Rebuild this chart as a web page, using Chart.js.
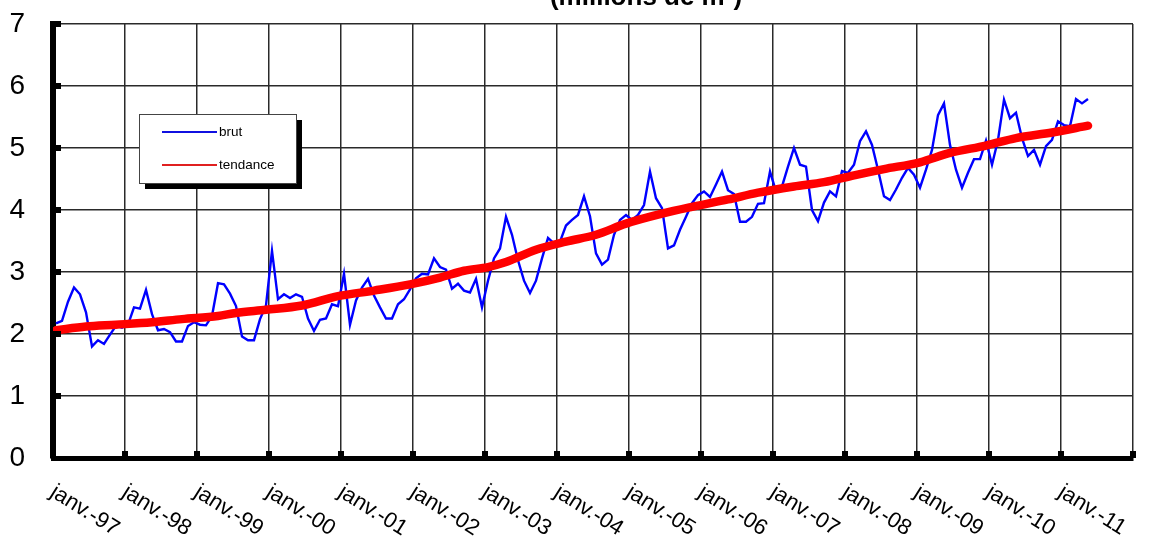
<!DOCTYPE html>
<html>
<head>
<meta charset="utf-8">
<script src="https://cdn.jsdelivr.net/npm/chart.js@4.4.1/dist/chart.umd.min.js"></script>
<style>
html, body { margin: 0; padding: 0; background: #fff; }
#chart { display: block; }
</style>
</head>
<body>
<canvas id="chart" width="1160" height="548"></canvas>
<script>
const TITLE = "(millions de m²)";

const yearLabels = [
  "janv.-97", "janv.-98", "janv.-99", "janv.-00", "janv.-01",
  "janv.-02", "janv.-03", "janv.-04", "janv.-05", "janv.-06",
  "janv.-07", "janv.-08", "janv.-09", "janv.-10", "janv.-11"
];

// monthly values, janv. 1997 -> mai 2011
const brut = [
  2.17, 2.21, 2.52, 2.75, 2.64, 2.35, 1.80, 1.90, 1.84, 1.99, 2.13, 2.10,
  2.15, 2.43, 2.41, 2.71, 2.32, 2.06, 2.08, 2.03, 1.88, 1.88, 2.13, 2.19,
  2.15, 2.14, 2.29, 2.82, 2.80, 2.65, 2.45, 1.96, 1.90, 1.90, 2.24, 2.46,
  3.34, 2.56, 2.64, 2.58, 2.64, 2.60, 2.25, 2.05, 2.23, 2.25, 2.48, 2.45,
  2.97, 2.15, 2.54, 2.75, 2.89, 2.62, 2.43, 2.25, 2.25, 2.48, 2.56, 2.72,
  2.90, 2.97, 2.96, 3.22, 3.08, 3.04, 2.73, 2.81, 2.70, 2.67, 2.89, 2.43,
  2.86, 3.22, 3.38, 3.89, 3.60, 3.19, 2.86, 2.66, 2.86, 3.22, 3.55, 3.46,
  3.49, 3.75, 3.84, 3.92, 4.22, 3.90, 3.30, 3.12, 3.20, 3.60, 3.84, 3.92,
  3.84, 3.92, 4.08, 4.62, 4.19, 4.03, 3.38, 3.43, 3.68, 3.89, 4.11, 4.24,
  4.30, 4.21, 4.41, 4.62, 4.32, 4.26, 3.81, 3.81, 3.89, 4.10, 4.11, 4.62,
  4.30, 4.38, 4.70, 5.00, 4.73, 4.70, 4.00, 3.82, 4.12, 4.30, 4.22, 4.63,
  4.60, 4.73, 5.11, 5.27, 5.05, 4.65, 4.22, 4.16, 4.33, 4.52, 4.68, 4.57,
  4.36, 4.65, 4.97, 5.53, 5.72, 5.05, 4.65, 4.36, 4.60, 4.82, 4.82, 5.12,
  4.73, 5.13, 5.78, 5.48, 5.57, 5.16, 4.87, 4.97, 4.73, 5.03, 5.13, 5.43,
  5.37, 5.35, 5.79, 5.72, 5.79
];

const trendMonths = [0, 5, 10, 16, 21, 27, 30, 35, 41, 47, 53, 59, 64, 68, 72, 75, 80,
  85, 90, 95, 101, 106, 112, 117, 123, 128, 133, 138, 144, 149, 155, 160, 166, 172];
const trendValues = [2.06, 2.12, 2.15, 2.19, 2.24, 2.29, 2.34, 2.39, 2.46, 2.61, 2.70, 2.80, 2.91, 3.02, 3.08, 3.16, 3.36,
  3.49, 3.60, 3.78, 3.94, 4.05, 4.17, 4.28, 4.38, 4.45, 4.56, 4.66, 4.77, 4.92, 5.04, 5.16, 5.25, 5.36];

const FONT = "'Liberation Sans', Arial, sans-serif";
const BLUE = "#0000ff";
const RED = "#ff0000";

const decor = {
  id: "decor",
  afterDraw(chart) {
    const ctx = chart.ctx;
    const xs = chart.scales.x;
    const ys = chart.scales.y;
    const area = chart.chartArea;
    ctx.save();

    // little knobs where grid lines meet the axes
    ctx.fillStyle = "#000";
    ys.ticks.forEach(t => {
      const py = ys.getPixelForValue(t.value);
      if (t.value > 0) ctx.fillRect(area.left, py - 3, 8, 6);
    });
    xs.ticks.forEach(t => {
      const px = xs.getPixelForValue(t.value);
      if (t.value > 0) ctx.fillRect(px - 3, area.bottom - 7, 6, 7);
    });

    // title, cut by the top edge
    ctx.font = "bold 26px " + FONT;
    ctx.textAlign = "center";
    ctx.textBaseline = "alphabetic";
    ctx.fillText(TITLE, 646, 5);

    // slanted year labels
    ctx.font = "22px " + FONT;
    ctx.textAlign = "left";
    ctx.textBaseline = "top";
    yearLabels.forEach((lab, i) => {
      const px = xs.getPixelForValue(i * 12);
      ctx.save();
      ctx.translate(px + 5, area.bottom + 23);
      ctx.rotate(32 * Math.PI / 180);
      ctx.fillText(lab, 0, 0);
      ctx.restore();
    });

    // legend box with shadow
    const bx = 139, by = 114, bw = 157, bh = 69;
    ctx.fillStyle = "#000";
    ctx.fillRect(bx + 6, by + 6, bw, bh);
    ctx.fillStyle = "#fff";
    ctx.fillRect(bx, by, bw, bh);
    ctx.strokeStyle = "#444";
    ctx.lineWidth = 1;
    ctx.strokeRect(bx + 0.5, by + 0.5, bw, bh);
    ctx.font = "13.5px " + FONT;
    ctx.textBaseline = "middle";
    chart.data.datasets.forEach((ds, i) => {
      const ly = by + 18 + i * 33;
      ctx.strokeStyle = ds.legendColor;
      ctx.lineWidth = 2;
      ctx.beginPath();
      ctx.moveTo(bx + 23, ly);
      ctx.lineTo(bx + 78, ly);
      ctx.stroke();
      ctx.fillStyle = "#000";
      ctx.fillText(ds.label, bx + 80, ly);
    });

    ctx.restore();
  }
};

new Chart(document.getElementById("chart"), {
  type: "line",
  data: {
    datasets: [
      {
        label: "brut",
        data: brut.map((v, i) => ({ x: i + 0.5, y: v })),
        borderColor: BLUE,
        legendColor: "#1010e0",
        borderWidth: 2.4,
        pointRadius: 0,
        tension: 0,
        order: 2
      },
      {
        label: "tendance",
        data: trendMonths.map((m, i) => ({ x: m + 0.5, y: trendValues[i] })),
        borderColor: RED,
        legendColor: "#e02020",
        borderWidth: 8.5,
        borderCapStyle: "round",
        pointRadius: 0,
        cubicInterpolationMode: "monotone",
        order: 1
      }
    ]
  },
  options: {
    responsive: false,
    animation: false,
    layout: { padding: { left: 0, right: 27, top: 24, bottom: 0 } },
    plugins: {
      legend: { display: false },
      tooltip: { enabled: false }
    },
    scales: {
      x: {
        type: "linear",
        min: 0,
        max: 180,
        ticks: { display: false, stepSize: 12 },
        grid: { color: "#2a2a2a", lineWidth: 1.5, drawTicks: false },
        border: { color: "#000", width: 5 },
        afterFit(scale) { scale.height = 90; }
      },
      y: {
        min: 0,
        max: 7,
        ticks: {
          stepSize: 1,
          padding: 28,
          color: "#000",
          font: { family: FONT, size: 28 }
        },
        grid: { color: "#2a2a2a", lineWidth: 1.5, drawTicks: false },
        border: { color: "#000", width: 6 },
        afterFit(scale) {
          scale.width = 53;
          scale.paddingTop = 0;
          scale.paddingBottom = 0;
        }
      }
    }
  },
  plugins: [decor]
});
</script>
</body>
</html>
